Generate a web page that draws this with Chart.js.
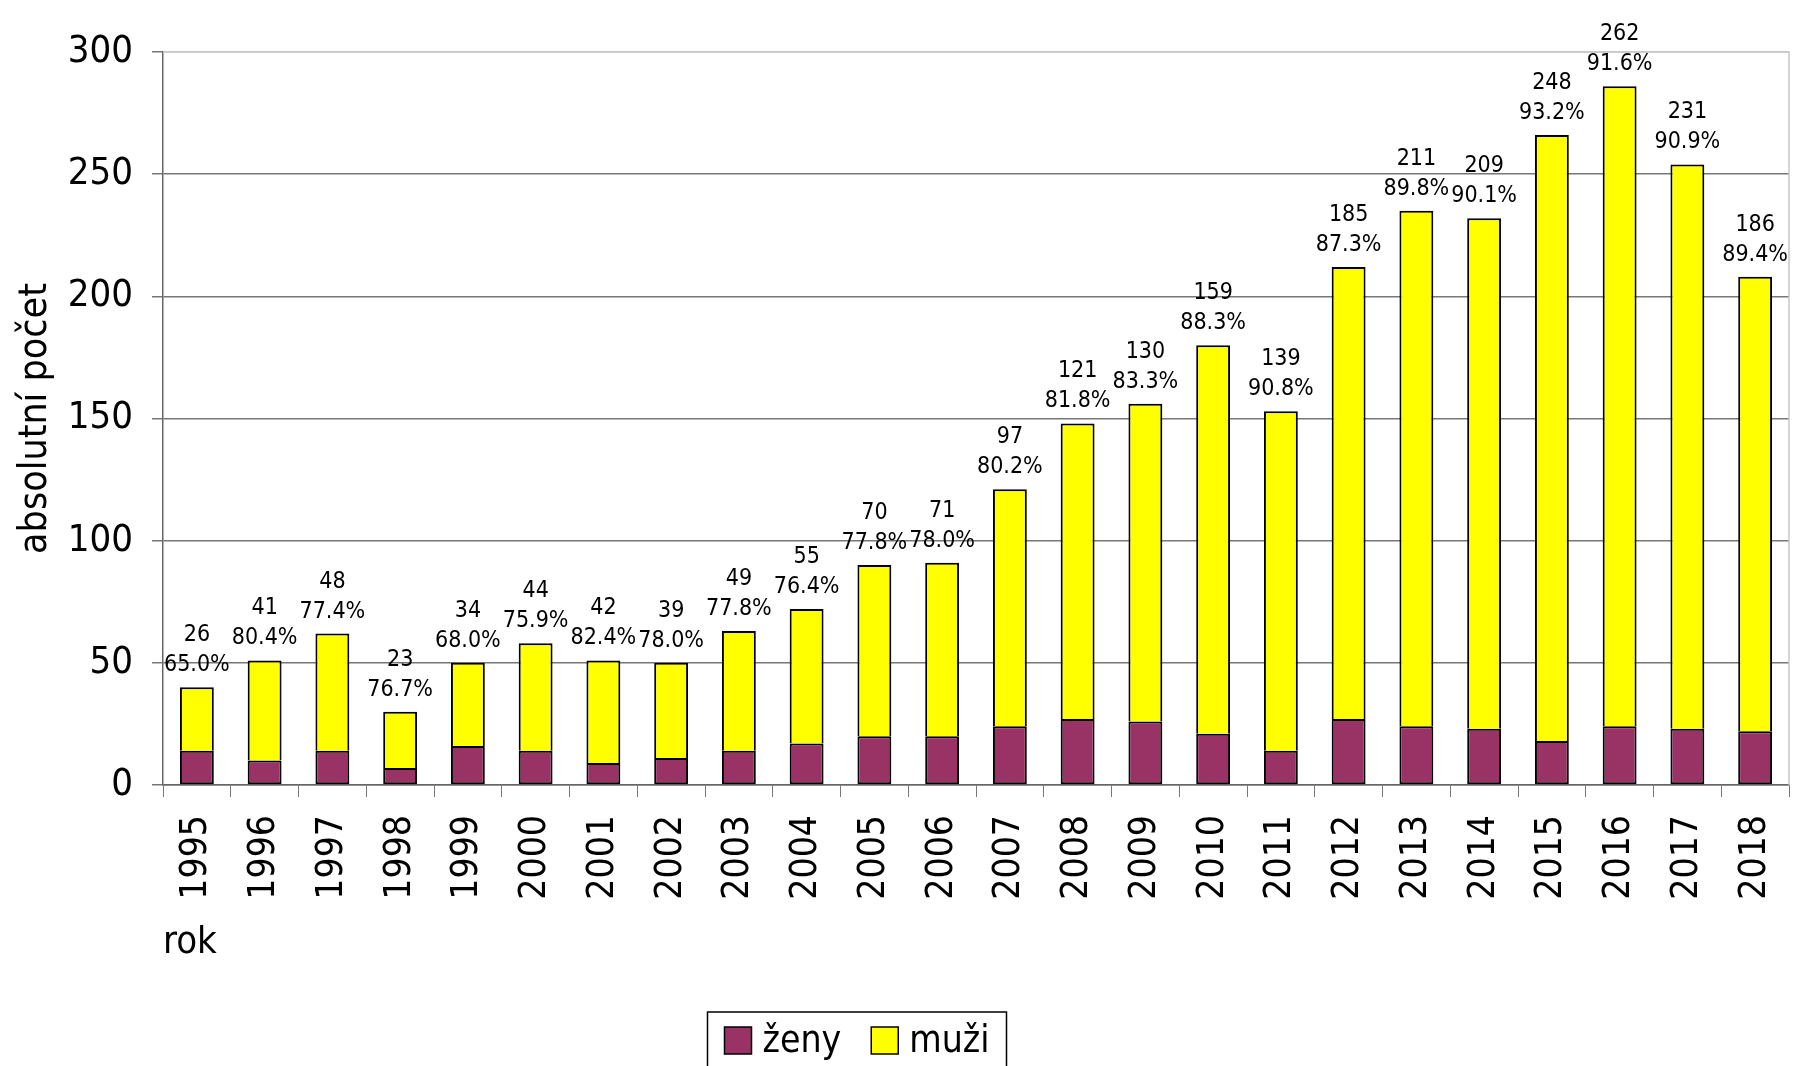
<!DOCTYPE html>
<html lang="cs">
<head>
<meta charset="utf-8">
<title>absolutní počet – ženy a muži</title>
<script src="https://cdn.jsdelivr.net/npm/chart.js@4.4.1/dist/chart.umd.min.js"></script>
<style>
  html, body { margin: 0; padding: 0; background: #fff; }
  #wrap { width: 1798px; height: 1066px; }
</style>
</head>
<body>
<div id="wrap"><canvas id="chart"></canvas></div>
<script>
// Data
const roky = ["1995", "1996", "1997", "1998", "1999", "2000", "2001", "2002", "2003", "2004", "2005", "2006",
  "2007", "2008", "2009", "2010", "2011", "2012", "2013", "2014", "2015", "2016", "2017", "2018"]
const zeny = [14, 10, 14, 7, 16, 14, 9, 11, 14, 17, 20, 20, 24, 27, 26, 21, 14, 27, 24, 23, 18, 24, 23, 22]
const muzi = [26, 41, 48, 23, 34, 44, 42, 39, 49, 55, 70, 71, 97, 121, 130, 159, 139, 185, 211, 209, 248, 262, 231, 186]
const podilMuzu = ["65.0%", "80.4%", "77.4%", "76.7%", "68.0%", "75.9%", "82.4%", "78.0%", "77.8%", "76.4%",
  "77.8%", "78.0%", "80.2%", "81.8%", "83.3%", "88.3%", "90.8%", "87.3%", "89.8%", "90.1%", "93.2%", "91.6%",
  "90.9%", "89.4%"]
const yMax = 300
const yKrok = 50

const FONT = '"DejaVu Sans Condensed", "DejaVu Sans", sans-serif'

// Labels above each stack: count of men + share of men
const popiskyPlugin = {
  id: "popisky",
  afterDatasetsDraw(chart) {
    const ctx = chart.ctx
    const meta = chart.getDatasetMeta(1)
    ctx.save()
    ctx.font = "23px " + FONT
    ctx.fillStyle = "#000"
    ctx.textAlign = "center"
    ctx.textBaseline = "alphabetic"
    meta.data.forEach((bar, i) => {
      ctx.fillText(String(muzi[i]), bar.x, bar.y - 46)
      ctx.fillText(podilMuzu[i], bar.x, bar.y - 16)
    })
    ctx.restore()
  },
}

// Light grey plot border (top + right)
const ramecekPlugin = {
  id: "ramecek",
  beforeDatasetsDraw(chart) {
    const { ctx, chartArea } = chart
    ctx.save()
    ctx.strokeStyle = "#c8c8c8"
    ctx.lineWidth = 1.5
    ctx.beginPath()
    ctx.moveTo(chartArea.left, chartArea.top)
    ctx.lineTo(chartArea.right, chartArea.top)
    ctx.lineTo(chartArea.right, chartArea.bottom)
    ctx.stroke()
    ctx.restore()
  },
}

// Boxed legend at the bottom
const legendaPlugin = {
  id: "legenda",
  afterDraw(chart) {
    const ctx = chart.ctx
    const sady = chart.data.datasets
    ctx.save()
    ctx.font = "37px " + FONT
    const box = 27
    const gapBox = 11
    const gapItem = 30
    const padX = 17
    const sirky = sady.map((ds) => box + gapBox + ctx.measureText(ds.label).width)
    const celkem = sirky.reduce((a, b) => a + b, 0) + gapItem * (sady.length - 1) + 2 * padX
    let x = 857 - celkem / 2
    const top = 1012
    ctx.strokeStyle = "#000"
    ctx.lineWidth = 1.5
    ctx.strokeRect(x, top, celkem, 90)
    x += padX
    sady.forEach((ds, i) => {
      ctx.fillStyle = ds.backgroundColor
      ctx.fillRect(x, 1027, box, box)
      ctx.strokeRect(x, 1027, box, box)
      ctx.fillStyle = "#000"
      ctx.textAlign = "left"
      ctx.textBaseline = "alphabetic"
      ctx.fillText(ds.label, x + box + gapBox, 1052)
      x += sirky[i] + gapItem
    })
    ctx.restore()
  },
}

function initChart() {
  const ctx = document.getElementById("chart")
  new Chart(ctx, {
    type: "bar",
    data: {
      labels: roky,
      datasets: [
        {
          label: "ženy",
          data: zeny,
          backgroundColor: "#993366",
          borderColor: "#000",
          borderWidth: 2,
          borderSkipped: false,
        },
        {
          label: "muži",
          data: muzi,
          backgroundColor: "#ffff00",
          borderColor: "#000",
          borderWidth: { top: 2, left: 2, right: 2, bottom: 0 },
          borderSkipped: false,
        },
      ],
    },
    options: {
      responsive: true,
      maintainAspectRatio: false,
      animation: false,
      devicePixelRatio: 1,
      categoryPercentage: 0.5,
      barPercentage: 1,
      layout: {
        padding: { top: 52, right: 9, bottom: 100, left: 0 },
      },
      plugins: {
        legend: { display: false },
        tooltip: { enabled: false },
      },
      scales: {
        x: {
          stacked: true,
          afterFit: (scale) => {
            scale.height = 181
            scale.paddingLeft = 0
            scale.paddingRight = 0
          },
          grid: {
            display: true,
            drawOnChartArea: false,
            drawTicks: true,
            tickLength: 12,
            color: "#777",
            offset: true,
          },
          border: { color: "#666", width: 1.5 },
          ticks: {
            color: "#000",
            font: { family: FONT, size: 37 },
            minRotation: 90,
            maxRotation: 90,
            padding: 18,
            autoSkip: false,
          },
          title: {
            display: true,
            text: "rok",
            align: "start",
            color: "#000",
            font: { family: FONT, size: 38 },
            padding: { top: 0, bottom: 0 },
          },
        },
        y: {
          stacked: true,
          min: 0,
          max: yMax,
          afterFit: (scale) => { scale.width = 163 },
          grid: {
            color: (c) => (c.tick && c.tick.value === yMax ? "#c8c8c8" : "#777"),
            tickColor: "#777",
            tickLength: 11,
            lineWidth: 1.5,
          },
          border: { color: "#666", width: 1.5 },
          ticks: {
            stepSize: yKrok,
            color: "#000",
            font: { family: FONT, size: 38 },
            padding: 19,
          },
          title: {
            display: true,
            text: "absolutní počet",
            color: "#000",
            font: { family: FONT, size: 39 },
            padding: { top: 12, bottom: 0 },
          },
        },
      },
    },
    plugins: [ramecekPlugin, popiskyPlugin, legendaPlugin],
  })
}

document.addEventListener("DOMContentLoaded", () => {
  initChart()
})
</script>
</body>
</html>
